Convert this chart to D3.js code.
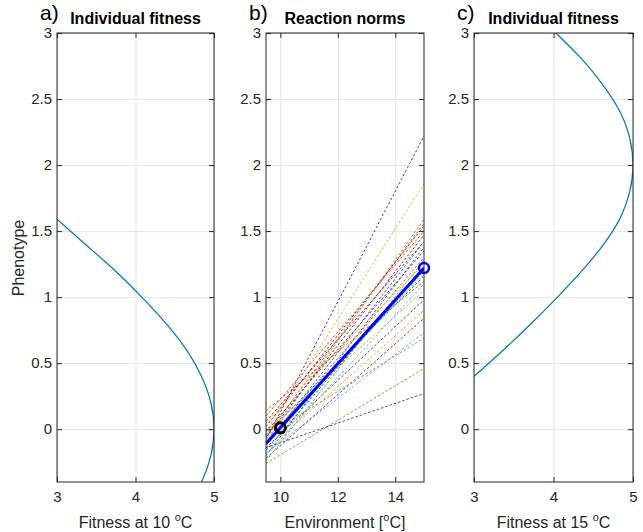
<!DOCTYPE html>
<html lang="en">
<head>
    <meta charset="UTF-8">
    <title>Fitness and reaction norms</title>
    <style>
        body { margin: 0; background: #fff; }
        svg { display: block; font-family: "Liberation Sans", Arial, Helvetica, sans-serif; }
        .tick text { fill: #262626; font-size: 15px; }
        .domain { display: none; }
        .grid line { stroke: #e3e3e3; }
        .ax line { stroke: #262626; }
    </style>
</head>
<body>
    <div id="container"></div>

    <script src="https://d3js.org/d3.v7.min.js"></script>
    <script>
        const width = 643;
        const height = 532;

        // phenotype values and fitness (10 oC)
        const phenA = [-0.6, -0.4, -0.2, 0, 0.2, 0.4, 0.6, 0.8, 1.0, 1.2, 1.4, 1.6, 1.8];
        const fitA = [4.64, 4.84, 4.96, 5.0, 4.96, 4.84, 4.65, 4.39, 4.08, 3.74, 3.36, 2.98, 2.59];

        // panel c (15 oC)
        const phenC = [0.2, 0.4, 0.6, 0.8, 1.0, 1.2, 1.4, 1.6, 1.8, 2.0, 2.2, 2.4, 2.6, 2.8, 3.0, 3.2];
        const fitC = [2.62, 3.0, 3.37, 3.72, 4.05, 4.36, 4.63, 4.84, 4.96, 5.0, 4.96, 4.84, 4.63, 4.36, 4.03, 3.70];

        // reaction norms: phenotype at 9.5 oC and at 15 oC
        const normStart = [-0.12, -0.05, -0.02, -0.08, -0.10, -0.18, 0.02, -0.20, 0.10, -0.16,
                           -0.14, -0.05, -0.08, -0.02, -0.16, -0.10, 0.05, -0.22, -0.26, -0.12,
                           -0.06, -0.04, 0.14, -0.02, -0.14, -0.24, -0.20, 0.06];
        const normEnd = [1.42, 1.56, 1.86, 2.22, 1.59, 0.73, 1.54, 1.38, 1.50, 0.90,
                         0.98, 0.69, 1.18, 1.35, 1.22, 1.30, 1.25, 0.84, 0.46, 1.20,
                         1.47, 1.16, 1.12, 1.05, 0.27, 1.28, 1.10, 1.42];
        const envRange = [9.5, 15];

        // mean reaction norm and the two points
        const meanNorm = [-0.11, 1.22];
        const startPoint = { env: 10, phen: 0.01 };

        const yTicks = [0, 0.5, 1, 1.5, 2, 2.5, 3];
        const fitTicks = [3, 4, 5];
        const envTicks = [10, 12, 14];

        const matlabColors = ["#0072BD", "#D95319", "#EDB120", "#7E2F8E", "#77AC30", "#4DBEEE", "#A2142F"];

        const plotTop = 33, plotBottom = 482;
        const y = d3.scaleLinear().domain([-0.4, 3]).range([plotBottom, plotTop]);

        const svg = d3.select("#container")
            .append("svg")
            .attr("width", width)
            .attr("height", height);

        const panels = [
            { id: "a", left: 57, right: 214, domain: [3, 5], ticks: fitTicks, title: "Individual fitness", xlab: ["Fitness at 10 ", "o", "C"] },
            { id: "b", left: 266, right: 424, domain: envRange, ticks: envTicks, title: "Reaction norms", xlab: ["Environment [", "o", "C]"] },
            { id: "c", left: 474, right: 633, domain: [3, 5], ticks: fitTicks, title: "Individual fitness", xlab: ["Fitness at 15 ", "o", "C"] }
        ];

        panels.forEach(p => {
            const x = d3.scaleLinear().domain(p.domain).range([p.left, p.right]);
            p.x = x;
            const w = p.right - p.left, h = plotBottom - plotTop;

            svg.append("clipPath").attr("id", "clip-" + p.id)
                .append("rect").attr("x", p.left).attr("y", plotTop).attr("width", w).attr("height", h);

            // grid
            svg.append("g").attr("class", "grid")
                .attr("transform", `translate(0,${plotBottom})`)
                .call(d3.axisBottom(x).tickValues(p.ticks).tickSize(-h).tickFormat(""));
            svg.append("g").attr("class", "grid")
                .attr("transform", `translate(${p.left},0)`)
                .call(d3.axisLeft(y).tickValues(yTicks).tickSize(-w).tickFormat(""));

            p.g = svg.append("g").attr("clip-path", `url(#clip-${p.id})`);
        });

        // panel a curve
        const pa = panels[0];
        pa.g.append("path")
            .datum(phenA.map((z, i) => [fitA[i], z]))
            .attr("fill", "none")
            .attr("stroke", "#0072BD")
            .attr("stroke-width", 1.2)
            .attr("d", d3.line().x(d => pa.x(d[0])).y(d => y(d[1])).curve(d3.curveNatural));

        // panel c curve
        const pc = panels[2];
        pc.g.append("path")
            .datum(phenC.map((z, i) => [fitC[i], z]))
            .attr("fill", "none")
            .attr("stroke", "#0072BD")
            .attr("stroke-width", 1.2)
            .attr("d", d3.line().x(d => pc.x(d[0])).y(d => y(d[1])).curve(d3.curveNatural));

        // panel b reaction norms
        const pb = panels[1];
        pb.g.selectAll("line.norm")
            .data(normStart.map((s, i) => ({ s: s, e: normEnd[i], i: i })))
            .join("line")
            .attr("class", "norm")
            .attr("x1", pb.x(envRange[0]))
            .attr("x2", pb.x(envRange[1]))
            .attr("y1", d => y(d.s))
            .attr("y2", d => y(d.e))
            .attr("stroke", d => matlabColors[d.i % 7])
            .attr("stroke-width", 1)
            .attr("stroke-dasharray", "2.5,2");

        pb.g.append("line")
            .attr("x1", pb.x(envRange[0]))
            .attr("x2", pb.x(envRange[1]))
            .attr("y1", y(meanNorm[0]))
            .attr("y2", y(meanNorm[1]))
            .attr("stroke", "#0000FF")
            .attr("stroke-width", 3);

        svg.append("circle")
            .attr("cx", pb.x(envRange[1]))
            .attr("cy", y(meanNorm[1]))
            .attr("r", 5)
            .attr("fill", "none")
            .attr("stroke", "#0000FF")
            .attr("stroke-width", 2.5);

        svg.append("circle")
            .attr("cx", pb.x(startPoint.env))
            .attr("cy", y(startPoint.phen))
            .attr("r", 5)
            .attr("fill", "none")
            .attr("stroke", "#000")
            .attr("stroke-width", 3);

        // axes, box, labels
        panels.forEach(p => {
            const x = p.x, w = p.right - p.left;

            svg.append("g").attr("class", "ax")
                .attr("transform", `translate(0,${plotBottom})`)
                .call(d3.axisBottom(x).tickValues(p.ticks).tickSize(-5).tickPadding(9).tickFormat(d3.format("")));
            svg.append("g").attr("class", "ax")
                .attr("transform", `translate(0,${plotTop})`)
                .call(d3.axisTop(x).tickValues(p.ticks).tickSize(-5).tickFormat(""));
            svg.append("g").attr("class", "ax")
                .attr("transform", `translate(${p.left},0)`)
                .call(d3.axisLeft(y).tickValues(yTicks).tickSize(-5).tickPadding(5).tickFormat(d3.format("")));
            svg.append("g").attr("class", "ax")
                .attr("transform", `translate(${p.right},0)`)
                .call(d3.axisRight(y).tickValues(yTicks).tickSize(-5).tickFormat(""));

            svg.append("rect")
                .attr("x", p.left).attr("y", plotTop)
                .attr("width", w).attr("height", plotBottom - plotTop)
                .attr("fill", "none")
                .attr("stroke", "#262626")
                .attr("stroke-width", 1);

            svg.append("text")
                .attr("x", (p.left + p.right) / 2)
                .attr("y", 24)
                .attr("text-anchor", "middle")
                .attr("font-size", 16)
                .attr("font-weight", "bold")
                .attr("fill", "#000")
                .text(p.title);

            svg.append("text")
                .attr("x", p.left - 17)
                .attr("y", 20)
                .attr("font-size", 21)
                .attr("fill", "#000")
                .text(p.id + ")");

            const lab = svg.append("text")
                .attr("x", (p.left + p.right) / 2)
                .attr("y", 528)
                .attr("text-anchor", "middle")
                .attr("font-size", 16)
                .attr("fill", "#262626");
            lab.append("tspan").text(p.xlab[0]);
            lab.append("tspan").attr("font-size", 11).attr("dy", -7).text(p.xlab[1]);
            lab.append("tspan").attr("dy", 7).text(p.xlab[2]);
        });

        svg.append("text")
            .attr("transform", `translate(24,258) rotate(-90)`)
            .attr("text-anchor", "middle")
            .attr("font-size", 16)
            .attr("fill", "#262626")
            .text("Phenotype");
    </script>
</body>
</html>
